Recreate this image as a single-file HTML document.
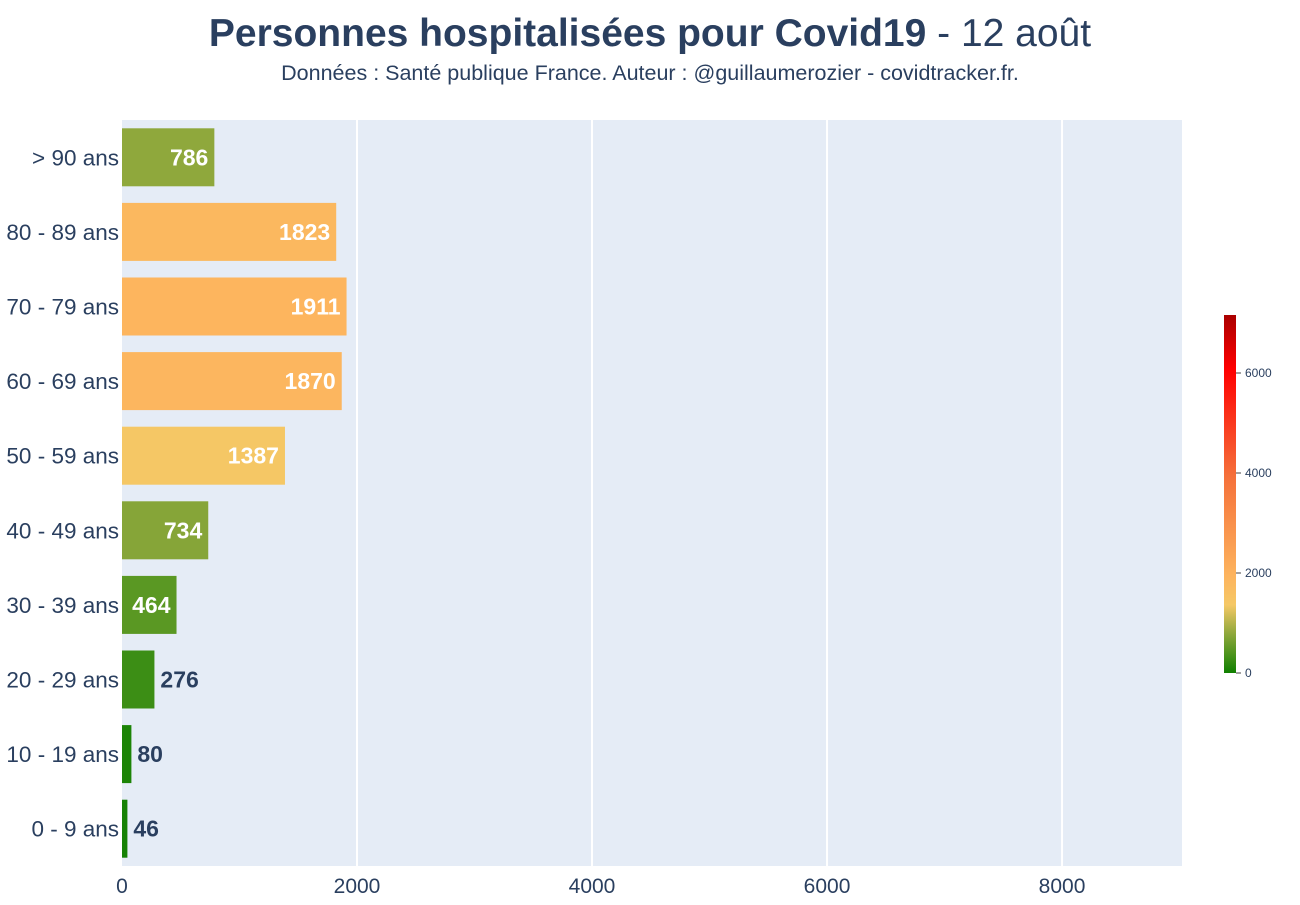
<!DOCTYPE html>
<html><head><meta charset="utf-8"><style>
body{margin:0;background:#fff;font-family:"Liberation Sans",sans-serif;}
</style></head><body>
<svg id="chart" width="1300" height="900" xmlns="http://www.w3.org/2000/svg">
<text x="650" y="46" text-anchor="middle" font-size="39" fill="#2a3f5f"><tspan font-weight="bold">Personnes hospitalisées pour Covid19</tspan> - 12 août</text>
<text x="650" y="80" text-anchor="middle" font-size="21.5" fill="#2a3f5f">Données : Santé publique France. Auteur : @guillaumerozier - covidtracker.fr.</text>
<rect x="122" y="120" width="1060" height="746" fill="#e5ecf6"/>
<g id="grid"></g><g id="bars"></g><g id="yax"></g><g id="xax"></g><g id="cbar"></g>
</svg>
<script>
const categories=["> 90 ans","80 - 89 ans","70 - 79 ans","60 - 69 ans","50 - 59 ans","40 - 49 ans","30 - 39 ans","20 - 29 ans","10 - 19 ans","0 - 9 ans"];
const values=[786,1823,1911,1870,1387,734,464,276,80,46];
const xTicks=[0,2000,4000,6000,8000];
const cbarTicks=[0,2000,4000,6000];
const xMax=9021, cMax=7160;
const stops=[[0,[15,128,0]],[0.11,[143,168,60]],[0.19,[245,200,101]],[0.27,[253,180,94]],[0.55,[245,112,58]],[0.85,[255,0,0]],[1,[170,0,0]]];
const ns="http://www.w3.org/2000/svg";
const X0=122,X1=1182,Y0=120,Y1=866;
const xs=v=>X0+v/xMax*(X1-X0);
const band=(Y1-Y0)/categories.length;
const yc=i=>Y0+band*(i+0.5);
function col(v){let t=Math.min(1,Math.max(0,v/cMax));for(let k=1;k<stops.length;k++){if(t<=stops[k][0]){const a=stops[k-1],b=stops[k],f=(t-a[0])/(b[0]-a[0]);return "rgb("+a[1].map((c,j)=>Math.round(c+(b[1][j]-c)*f)).join(",")+")";}}return "rgb(170,0,0)";}
function mk(tag,attrs,parent){const e=document.createElementNS(ns,tag);for(const k in attrs)e.setAttribute(k,attrs[k]);document.getElementById(parent).appendChild(e);return e;}
xTicks.forEach(t=>{
 if(t>0){const l=mk("line",{x1:xs(t),x2:xs(t),y1:Y0,y2:Y1,stroke:"#fff","stroke-width":2},"grid");
 
 }
 const tx=mk("text",{x:xs(t),y:893,"text-anchor":"middle","font-size":21,fill:"#2a3f5f"},"xax");tx.textContent=t;
 
 
});
values.forEach((v,i)=>{
 const h=58,y=yc(i)-h/2;
 const r=mk("rect",{x:X0,y:y,width:xs(v)-X0,height:h,fill:col(v)},"bars");
 
 
 const inside=v>400;
 const t=mk("text",{x:inside?xs(v)-6:xs(v)+6,y:yc(i)+8,"text-anchor":inside?"end":"start","font-size":23,"font-weight":"bold",fill:inside?"#fff":"#2a3f5f"},"bars");
 t.textContent=v;
 
 
 const c=mk("text",{x:119,y:yc(i)+8,"text-anchor":"end","font-size":22.5,fill:"#2a3f5f"},"yax");
 c.textContent=categories[i];
 
 
});
const CB0=673,CB1=315,cy=v=>CB0-v/cMax*(CB0-CB1);
const defs=mk("defs",{},"cbar");
const g=document.createElementNS(ns,"linearGradient");g.setAttribute("id","cg");g.setAttribute("x1","0");g.setAttribute("x2","0");g.setAttribute("y1","1");g.setAttribute("y2","0");defs.appendChild(g);
stops.forEach(s=>{const st=document.createElementNS(ns,"stop");st.setAttribute("offset",s[0]);st.setAttribute("stop-color","rgb("+s[1].join(",")+")");g.appendChild(st);});
const cb=mk("rect",{x:1224,y:CB1,width:12,height:CB0-CB1,fill:"url(#cg)"},"cbar");


cbarTicks.forEach(t=>{
 mk("line",{x1:1236,x2:1241,y1:cy(t),y2:cy(t),stroke:"#444"},"cbar");
 const tx=mk("text",{x:1245,y:cy(t)+4,"font-size":12,fill:"#2a3f5f"},"cbar");tx.textContent=t;
 
 
});
</script>
</body></html>
